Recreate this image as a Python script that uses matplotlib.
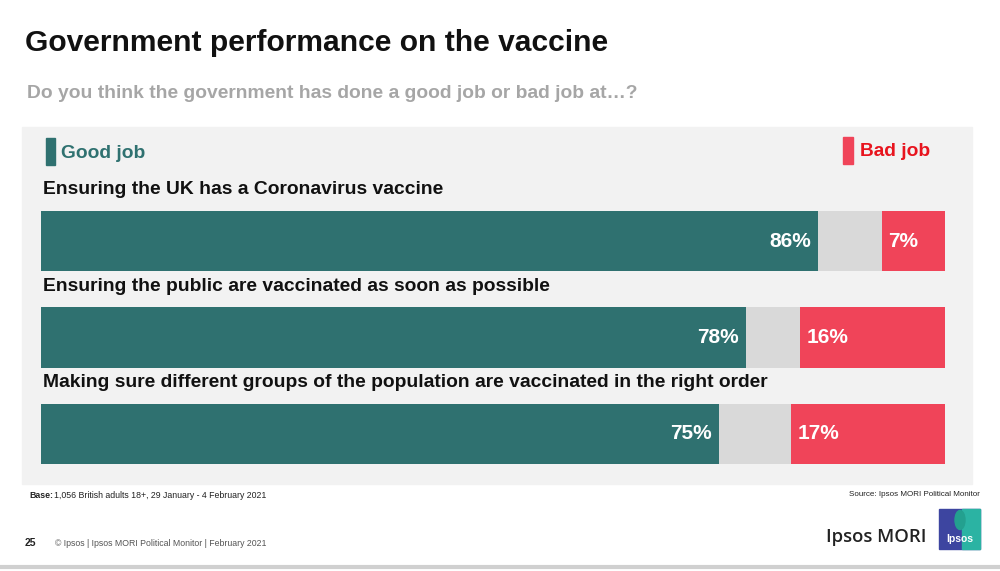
import matplotlib.pyplot as plt
from matplotlib.patches import Rectangle, Ellipse
import numpy as np

plt.rcParams['font.family'] = ['Liberation Sans', 'DejaVu Sans']

# data
questions = [
    "Ensuring the UK has a Coronavirus vaccine",
    "Ensuring the public are vaccinated as soon as possible",
    "Making sure different groups of the population are vaccinated in the right order",
]
good_job = [86, 78, 75]
bad_job = [7, 16, 17]

TEAL = "#2F7170"
RED = "#F04459"
GREY = "#D9D9D9"
PANEL = "#F2F2F2"

W, H = 1000, 571
fig = plt.figure(figsize=(W / 100, H / 100), dpi=100)
fig.patch.set_facecolor("white")


def fx(px):
    return px / W


def fy(py):
    return 1 - py / H


# background panel
fig.patches.append(Rectangle((fx(22), fy(484)), fx(972) - fx(22), fy(127) - fy(484),
                             transform=fig.transFigure, color=PANEL, zorder=0))

# titles
fig.text(fx(25), fy(43), "Government performance on the vaccine", fontsize=21.6,
         fontweight="bold", color="#111111", va="center")
fig.text(fx(27), fy(94), "Do you think the government has done a good job or bad job at\u2026?",
         fontsize=13.9, fontweight="bold", color="#A6A6A6", va="center")

# legend
fig.patches.append(Rectangle((fx(46), fy(165)), fx(9), fy(138) - fy(165),
                             transform=fig.transFigure, color=TEAL, zorder=1))
fig.text(fx(61), fy(153), "Good job", fontsize=13.8, fontweight="bold", color=TEAL, va="center")
fig.patches.append(Rectangle((fx(843), fy(164)), fx(10), fy(137) - fy(164),
                             transform=fig.transFigure, color=RED, zorder=1))
fig.text(fx(860), fy(152), "Bad job", fontsize=13.8, fontweight="bold", color="#E8141E", va="center")

# bars
bh = 0.622
ax = fig.add_axes([fx(41), fy(464), fx(945) - fx(41), fy(211) - fy(464)])
ax.set_zorder(5)
ax.set_xlim(0, 100)
ax.set_ylim(len(questions) - 1 + bh / 2, -bh / 2)
ax.axis("off")

y = np.arange(len(questions))
good = np.array(good_job)
bad = np.array(bad_job)
rest = 100 - good - bad
ax.barh(y, good, height=bh, color=TEAL, edgecolor="none")
ax.barh(y, rest, left=good, height=bh, color=GREY, edgecolor="none")
ax.barh(y, bad, left=100 - bad, height=bh, color=RED, edgecolor="none")

for i, q in enumerate(questions):
    ax.text(0.2, i - 0.53, q, fontsize=13.9, fontweight="bold", color="#111111",
            va="center", ha="left", clip_on=False)
    ax.text(good[i] - 0.8, i, f"{good[i]}%", fontsize=15, fontweight="bold",
            color="white", va="center", ha="right")
    ax.text(100 - bad[i] + 0.7, i, f"{bad[i]}%", fontsize=15, fontweight="bold",
            color="white", va="center", ha="left")

# footer
fig.text(fx(29), fy(495), "Base:", fontsize=6.3, fontweight="bold", color="#222222", va="center")
fig.text(fx(54), fy(495), "1,056 British adults 18+, 29 January - 4 February 2021", fontsize=6.3,
         color="#222222", va="center")
fig.text(fx(980), fy(494), "Source: Ipsos MORI Political Monitor", fontsize=5.8,
         color="#222222", va="center", ha="right")
fig.text(fx(25), fy(543), "25", fontsize=7.5, fontweight="bold", color="#222222", va="center")
fig.text(fx(55), fy(543), "\u00a9 Ipsos | Ipsos MORI Political Monitor | February 2021", fontsize=6.3,
         color="#555555", va="center")
fig.text(fx(826), fy(537), "Ipsos MORI", fontsize=13.3, color="#222222", va="center",
         fontweight="semibold", family=["Open Sans", "DejaVu Sans"])

# logo
fig.patches.append(Rectangle((fx(939), fy(549)), fx(41), fy(509) - fy(549),
                             transform=fig.transFigure, color="#3D45A0", zorder=1))
fig.patches.append(Rectangle((fx(962), fy(549)), fx(18), fy(509) - fy(549),
                             transform=fig.transFigure, color="#2BB3A3", zorder=1))
fig.patches.append(Ellipse((fx(960), fy(520)), fx(10), fy(511) - fy(530),
                           transform=fig.transFigure, color="#23A08F", zorder=2))
fig.text(fx(960), fy(539), "Ipsos", fontsize=7.5, color="white", fontweight="bold",
         va="center", ha="center", zorder=3)

# bottom rule
fig.add_artist(plt.Line2D([0, 1], [fy(567), fy(567)], transform=fig.transFigure,
                          color="#D0D0D0", lw=3))

fig.savefig("out.png", dpi=100)
